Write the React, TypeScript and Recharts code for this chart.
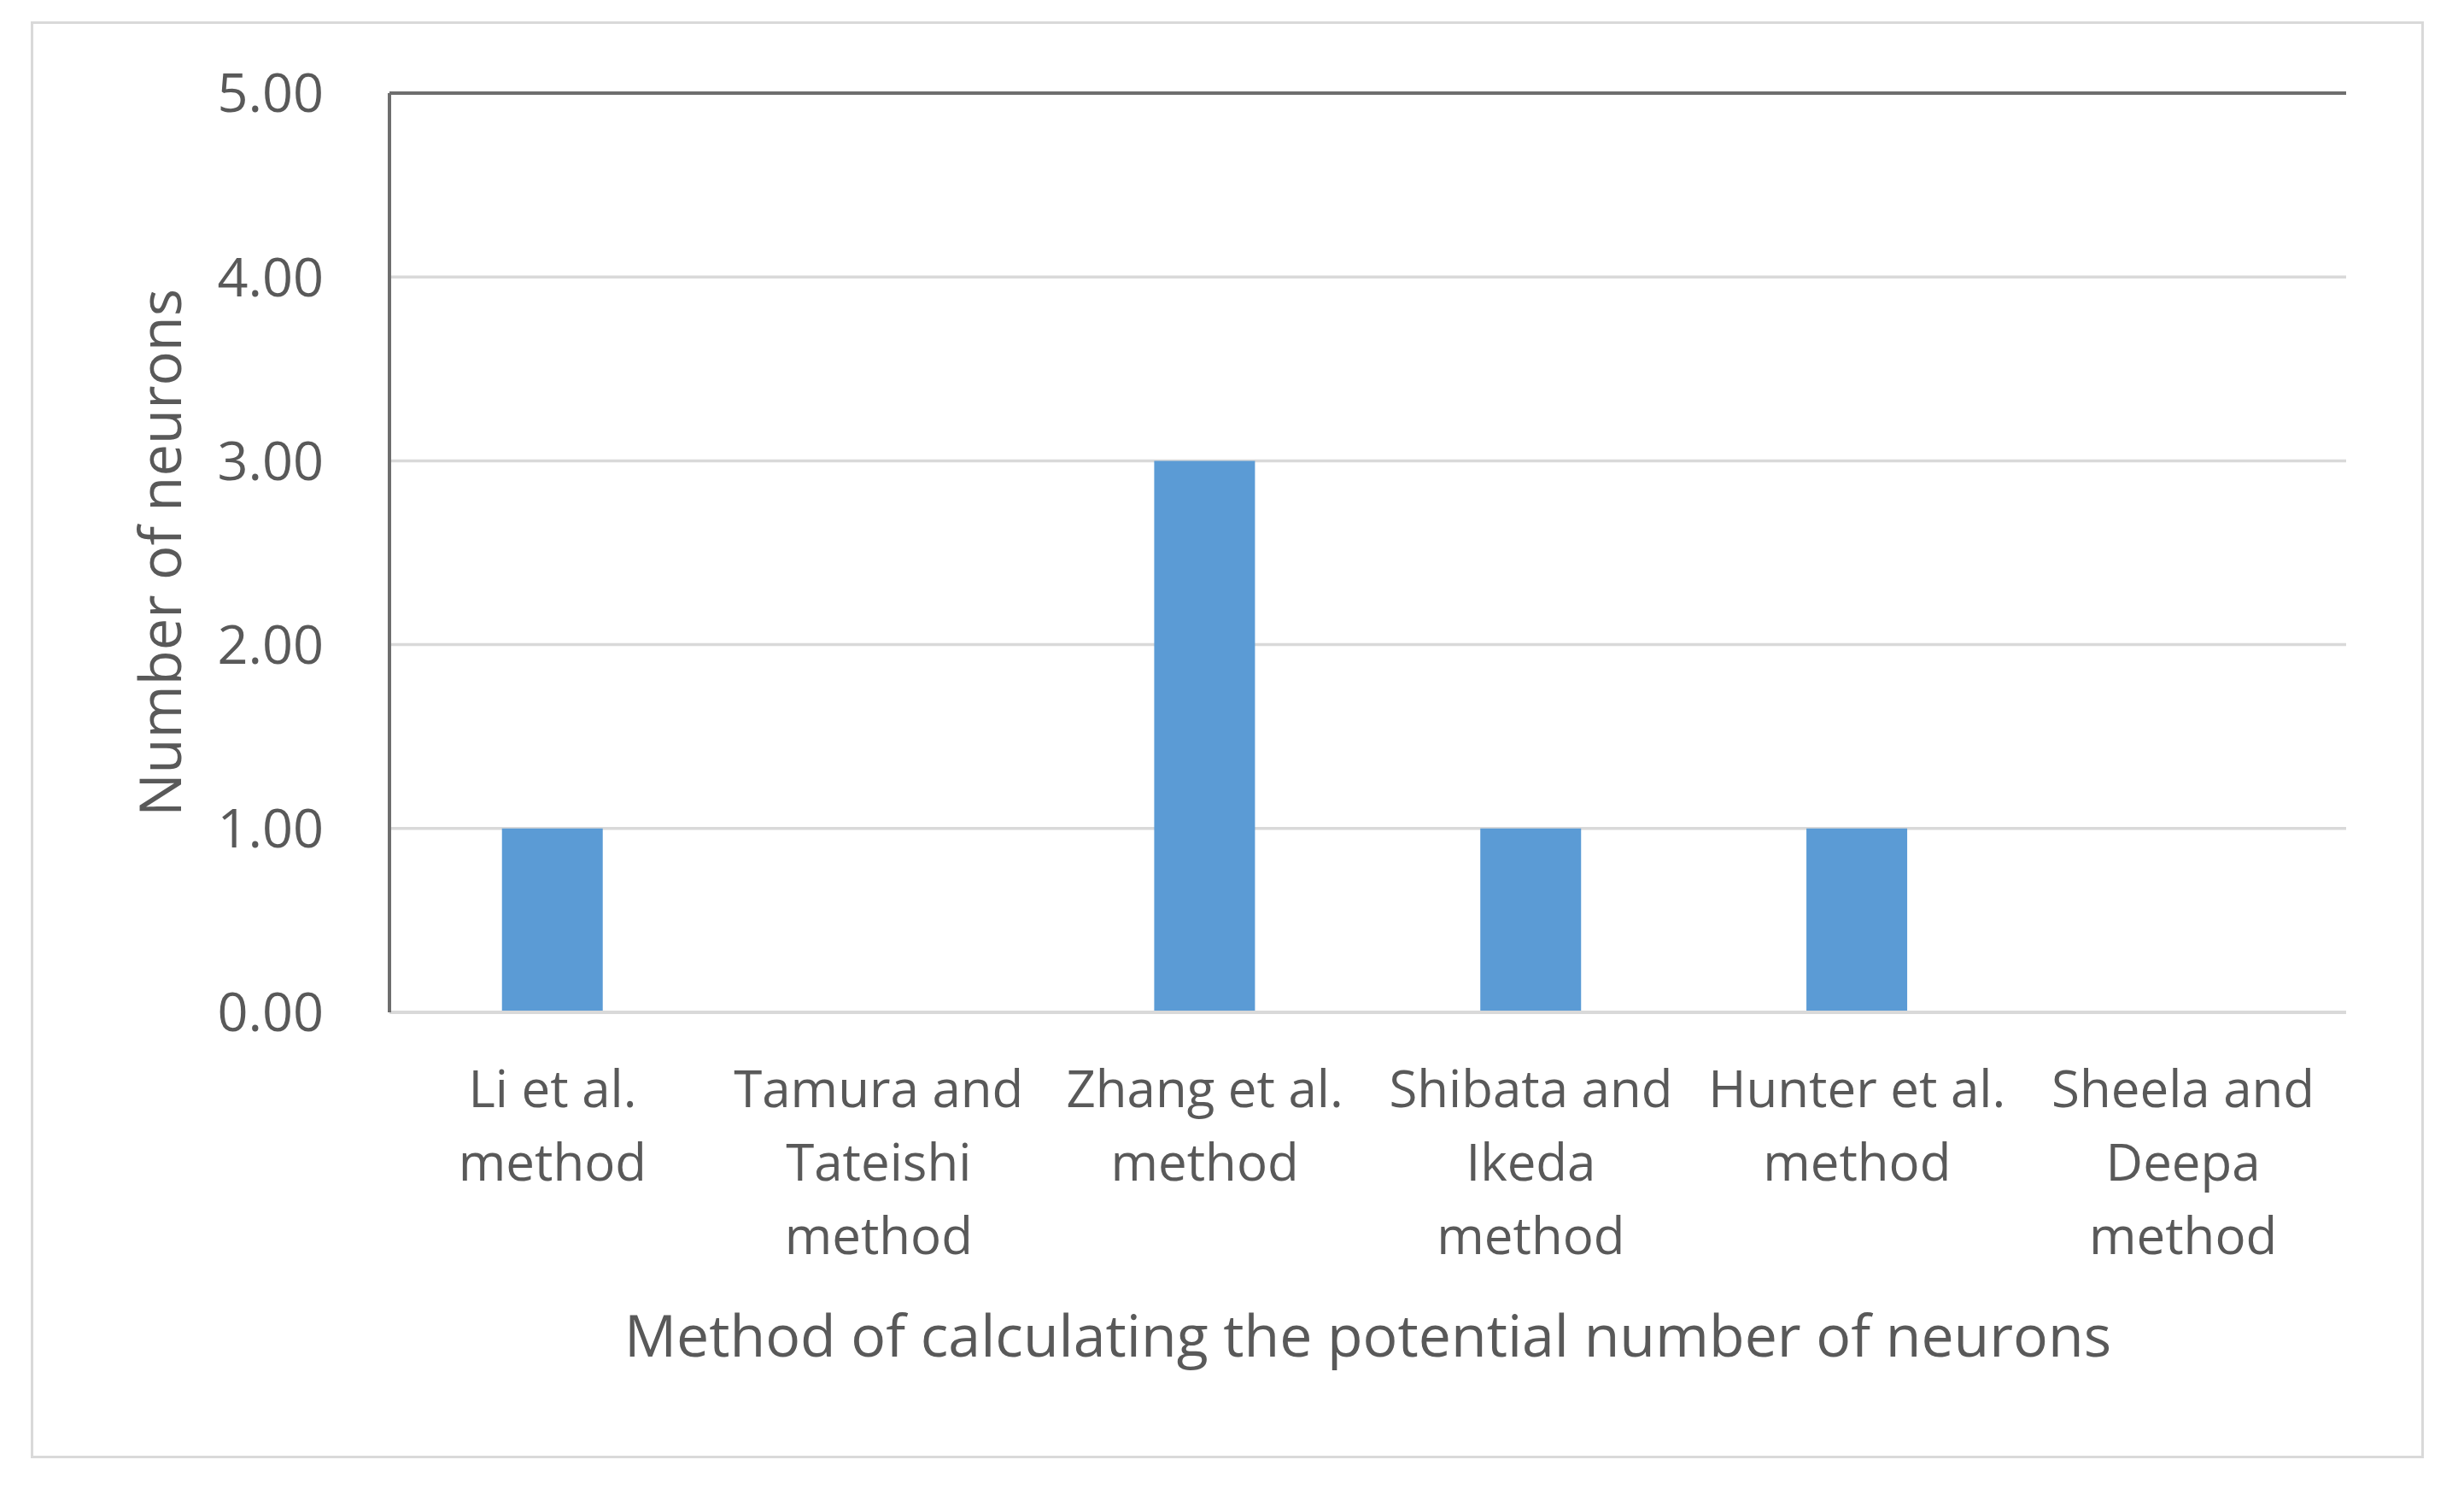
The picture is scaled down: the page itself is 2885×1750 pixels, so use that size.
import { BarChart, Bar, XAxis, YAxis, CartesianGrid, ReferenceLine, Label } from 'recharts';

const categories = [
  'Li et al.\nmethod',
  'Tamura and\nTateishi\nmethod',
  'Zhang et al.\nmethod',
  'Shibata and\nIkeda\nmethod',
  'Hunter et al.\nmethod',
  'Sheela and\nDeepa\nmethod',
];
const neurons = [1, 0, 3, 1, 1, 0];
const yTicks = [0, 1, 2, 3, 4, 5];

const data = categories.map((name, i) => ({ name, neurons: neurons[i] }));

const FONT = '"Open Sans", sans-serif';
const TEXT = '#595959';
const FRAME = '#6e6e6e';

const MultiLineTick = (props: any) => {
  const { x, y, payload } = props;
  const lines = String(payload.value).split('\n');
  return (
    <g transform={`translate(${x},${y})`}>
      <text textAnchor="middle" fill={TEXT} fontSize={60} fontFamily={FONT}>
        {lines.map((line, i) => (
          <tspan key={i} x={0} y={103 + i * 86}>
            {line}
          </tspan>
        ))}
      </text>
    </g>
  );
};

export default function App() {
  return (
    <div style={{ position: 'absolute', left: 0, top: 0, width: 2885, height: 1750, background: '#fff' }}>
      <div
        style={{
          position: 'absolute',
          left: 36,
          top: 25,
          width: 2796,
          height: 1676,
          border: '3px solid #d9d9d9',
        }}
      />
      <div style={{ position: 'absolute', left: 0, top: 0 }}>
        <BarChart
          width={2885}
          height={1750}
          data={data}
          margin={{ top: 109, right: 138, bottom: 185, left: 0 }}
          barCategoryGap="34.5%"
        >
          <CartesianGrid vertical={false} stroke="#d9d9d9" strokeWidth={3.5} />
          <XAxis
            dataKey="name"
            height={380}
            interval={0}
            axisLine={{ stroke: '#d9d9d9', strokeWidth: 4 }}
            tickLine={false}
            tick={<MultiLineTick />}
          >
            <Label
              content={(p: any) => {
                const vb = p.viewBox;
                return (
                  <text
                    x={vb.x + vb.width / 2}
                    y={1588}
                    textAnchor="middle"
                    fill={TEXT}
                    fontSize={68}
                    fontFamily={FONT}
                  >
                    Method of calculating the potential number of neurons
                  </text>
                );
              }}
            />
          </XAxis>
          <YAxis
            width={456}
            domain={[0, 5]}
            ticks={yTicks}
            tickFormatter={(v: number) => v.toFixed(2)}
            axisLine={{ stroke: FRAME, strokeWidth: 4 }}
            tickLine={false}
            tickSize={0}
            tickMargin={77}
            tick={{ fill: TEXT, fontSize: 63, fontFamily: FONT }}
          >
            <Label
              content={(p: any) => {
                const vb = p.viewBox;
                const cx = 186;
                const cy = vb.y + vb.height / 2;
                return (
                  <text
                    x={cx}
                    y={cy}
                    transform={`rotate(-90 ${cx} ${cy})`}
                    textAnchor="middle"
                    dominantBaseline="central"
                    fill={TEXT}
                    fontSize={67}
                    fontFamily={FONT}
                  >
                    Number of neurons
                  </text>
                );
              }}
            />
          </YAxis>
          <YAxis
            yAxisId="right"
            orientation="right"
            width={0}
            domain={[0, 5]}
            tick={false}
            tickLine={false}
            axisLine={{ stroke: FRAME, strokeWidth: 4 }}
          />
          <ReferenceLine y={5} stroke={FRAME} strokeWidth={4} />
          <Bar dataKey="neurons" fill="#5b9bd5" isAnimationActive={false} />
        </BarChart>
      </div>
    </div>
  );
}
